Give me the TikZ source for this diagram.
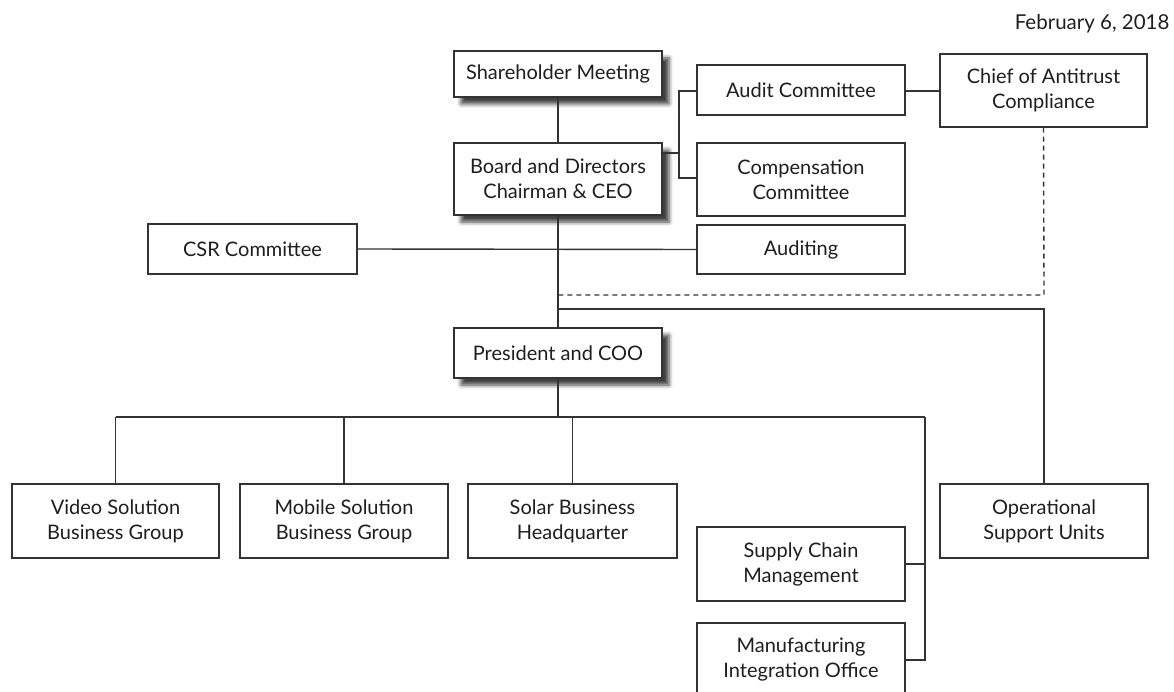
\documentclass[tikz,border=0pt]{standalone}
\usepackage{fontspec}
\setmainfont{Lato}
\usetikzlibrary{shadows.blur}
\definecolor{ln}{HTML}{333333}
\definecolor{tx}{HTML}{1E1E1E}
\tikzset{
  box/.style={draw=ln, line width=1.4pt, fill=white, inner sep=0pt, align=center,
    minimum width=208pt, text=tx, font=\fontsize{20}{25}\selectfont},
  shbox/.style={box, blur shadow={shadow xshift=7pt, shadow yshift=-7pt, shadow blur radius=4pt, shadow opacity=75}},
  conn/.style={draw=ln, line width=1.4pt},
  dconn/.style={draw=ln, line width=1.4pt, dash pattern=on 5pt off 4pt},
}
\begin{document}
\begin{tikzpicture}[x=1pt,y=-1pt]
\useasboundingbox (0,0) rectangle (1174,692);
\clip (0,0) rectangle (1174,692);
\node[anchor=east, text=tx, font=\fontsize{20.5}{24}\selectfont] (date) at (1173,24) {February 6, 2018};
% boxes
\node[shbox, minimum height=46pt] (sh) at (558,74) {Shareholder Meeting};
\node[shbox, minimum height=72pt] (bd) at (558,179) {Board and Directors\\Chairman \& CEO};
\node[box, minimum height=50pt] (au) at (801,90) {Audit Committee};
\node[box, minimum height=73pt] (co) at (801,179.5) {Compensation\\Committee};
\node[box, minimum height=49pt] (ad) at (801,249.5) {Auditing};
\node[box, minimum width=207pt, minimum height=73pt] (ch) at (1043.5,90.5) {Chief of Antitrust\\Compliance};
\node[box, minimum width=209pt, minimum height=50pt] (csr) at (252.5,249) {CSR Committee};
\node[shbox, minimum height=50pt] (pr) at (558,353) {President and COO};
\node[box, minimum width=207pt, minimum height=74pt] (vi) at (115.5,521) {Video Solution\\Business Group};
\node[box, minimum height=74pt] (mo) at (344,521) {Mobile Solution\\Business Group};
\node[box, minimum width=209pt, minimum height=74pt] (so) at (572.5,521) {Solar Business\\Headquarter};
\node[box, minimum height=74pt] (op) at (1044,521) {Operational\\Support Units};
\node[box, minimum height=74pt] (sc) at (801,564) {Supply Chain\\Management};
\node[box, minimum height=74pt] (mf) at (801,660) {Manufacturing\\Integration Office};
% junction coordinates
\coordinate (bdr) at (679,153);
\coordinate (brt) at (679,91);
\coordinate (brb) at (679,178);
\coordinate (dj) at (1044,295);
\coordinate (dm) at (558,295);
\coordinate (sm) at (558,309);
\coordinate (sj) at (1044,309);
\coordinate (hm) at (558,417);
\coordinate (hl) at (115.5,417);
\coordinate (hmo) at (344,417);
\coordinate (hso) at (572.5,417);
\coordinate (hr) at (925,417);
\coordinate (rsc) at (925,564);
\coordinate (rmf) at (925,660);
% connectors
\draw[conn] (sh) -- (bd);
\draw[conn] (bd.east |- bdr) -- (bdr);
\draw[conn] (au.west |- brt) -- (brt) -- (brb) -- (co.west |- brb);
\draw[conn] (au.east |- brt) -- (ch.west |- brt);
\draw[conn] (csr.east) -- (ad.west);
\draw[conn] (bd) -- (pr);
\draw[dconn] (ch.south) -- (dj) -- (dm);
\draw[conn] (sm) -- (sj) -- (op.north);
\draw[conn] (pr) -- (hm);
\draw[conn] (hl) -- (hr);
\draw[conn] (hl) -- (vi.north);
\draw[conn] (hmo) -- (mo.north);
\draw[conn] (hso) -- (so.north);
\draw[conn] (hr) -- (rmf) -- (mf.east |- rmf);
\draw[conn] (rsc) -- (sc.east |- rsc);
\end{tikzpicture}
\end{document}
